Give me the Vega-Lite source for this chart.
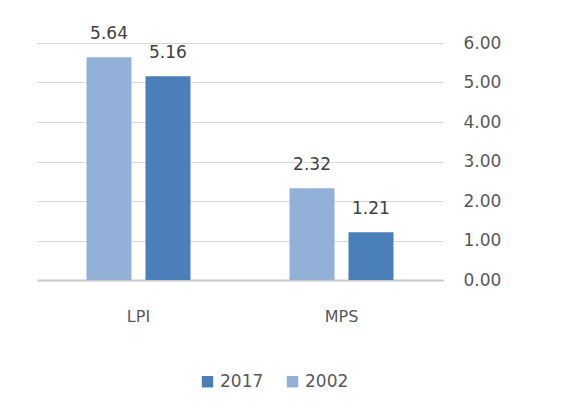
{
  "$schema": "https://vega.github.io/schema/vega-lite/v6.json",
  "width": 406,
  "height": 237,
  "autosize": {"type": "none"},
  "padding": {"left": 37, "top": 43, "right": 139, "bottom": 135},
  "background": "white",
  "config": {
    "view": {"stroke": null},
    "font": "DejaVu Sans"
  },
  "data": {
    "values": [
      {"category": "LPI", "year": "2002", "value": 5.64},
      {"category": "LPI", "year": "2017", "value": 5.16},
      {"category": "MPS", "year": "2002", "value": 2.32},
      {"category": "MPS", "year": "2017", "value": 1.21}
    ]
  },
  "encoding": {
    "x": {
      "field": "category",
      "type": "nominal",
      "scale": {"paddingInner": 0, "paddingOuter": 0},
      "axis": {
        "title": null,
        "labelAngle": 0,
        "domain": true,
        "domainColor": "#c8c8c8",
        "domainWidth": 2,
        "ticks": false,
        "labelPadding": 28,
        "labelFontSize": 16,
        "labelColor": "#595959"
      }
    },
    "xOffset": {
      "field": "year",
      "type": "nominal",
      "sort": ["2002", "2017"],
      "scale": {"paddingInner": 0.237, "paddingOuter": 0.84}
    },
    "y": {
      "field": "value",
      "type": "quantitative",
      "scale": {"domain": [0, 6], "nice": false},
      "axis": {
        "orient": "right",
        "title": null,
        "values": [0, 1, 2, 3, 4, 5, 6],
        "format": ".2f",
        "domain": false,
        "ticks": false,
        "labelPadding": 20,
        "labelFontSize": 17,
        "labelColor": "#595959",
        "grid": true,
        "gridColor": "#d9d9d9",
        "gridWidth": 1
      }
    }
  },
  "layer": [
    {
      "mark": {"type": "bar"},
      "encoding": {
        "color": {
          "field": "year",
          "type": "nominal",
          "scale": {"domain": ["2017", "2002"], "range": ["#4a7fb9", "#93b1d8"]},
          "legend": {
            "title": null,
            "orient": "none",
            "direction": "horizontal",
            "legendX": 162,
            "legendY": 330,
            "symbolType": "square",
            "symbolSize": 130,
            "symbolStrokeWidth": 0,
            "labelFontSize": 17,
            "labelColor": "#595959",
            "columnPadding": 20,
            "labelOffset": 4
          }
        }
      }
    },
    {
      "mark": {"type": "text", "baseline": "alphabetic", "dy": -18, "fontSize": 17, "color": "#404040"},
      "encoding": {
        "text": {"field": "value", "type": "quantitative", "format": ".2f"}
      }
    }
  ]
}
